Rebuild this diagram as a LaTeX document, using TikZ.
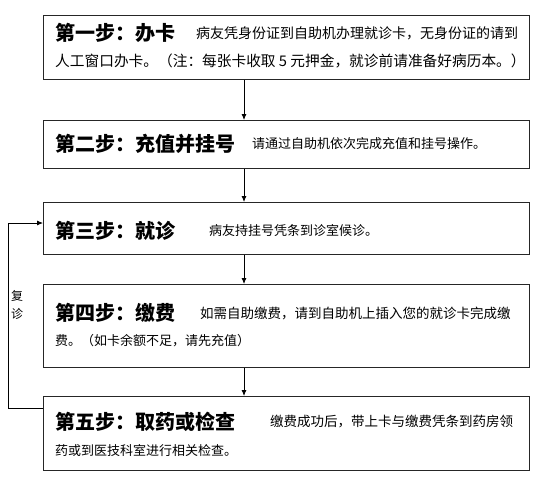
\documentclass[tikz,border=0pt]{standalone}
\usepackage{fontspec}
\setmainfont{Noto Sans CJK SC}
\usetikzlibrary{arrows.meta}
\tikzset{
  box/.style={draw=black!85, line width=0.8pt, anchor=north west, minimum width=486pt, inner sep=0pt},
  ttl/.style={anchor=west, inner sep=0pt, font=\fontsize{20}{24}\selectfont\bfseries},
  txt/.style={anchor=west, inner sep=0pt, font=\fontsize{13}{16}\selectfont},
  arr/.style={line width=0.8pt, -{Latex[length=6pt,width=5pt]}}
}
\begin{document}
\begin{tikzpicture}[x=1pt,y=-1pt]
\useasboundingbox (0,0) rectangle (549,482);
\node[box, minimum height=64pt] (b1) at (43,15) {};
\node[box, minimum height=48pt] (b2) at (43,120) {};
\node[box, minimum height=52pt] (b3) at (43,202) {};
\node[box, minimum height=83pt] (b4) at (43,284) {};
\node[box, minimum height=74pt] (b5) at (43,396) {};

\node[ttl] (t1) at (55,33) {第一步：办卡};
\node[txt, font=\fontsize{14}{16}\selectfont] (d1a) at (196,33) {病友凭身份证到自助机办理就诊卡，无身份证的请到};
\node[txt, font=\fontsize{14.7}{16}\selectfont] (d1b) at (55,61) {人工窗口办卡。（注：每张卡收取 5 元押金，就诊前请准备好病历本。）};

\node[ttl] (t2) at (55,144) {第二步：充值并挂号};
\node[txt] (d2) at (252,144) {请通过自助机依次完成充值和挂号操作。};

\node[ttl] (t3) at (55,231) {第三步：就诊};
\node[txt] (d3) at (209,231) {病友持挂号凭条到诊室候诊。};

\node[ttl] (t4) at (55,313) {第四步：缴费};
\node[txt, font=\fontsize{13.5}{16}\selectfont] (d4a) at (200,313) {如需自助缴费，请到自助机上插入您的就诊卡完成缴};
\node[txt] (d4b) at (55,341) {费。（如卡余额不足，请先充值）};

\node[ttl] (t5) at (55,422) {第五步：取药或检查};
\node[txt, font=\fontsize{13.5}{16}\selectfont] (d5a) at (270,422) {缴费成功后，带上卡与缴费凭条到药房领};
\node[txt] (d5b) at (55,451) {药或到医技科室进行相关检查。};

\node[inner sep=0pt, font=\fontsize{12}{18}\selectfont, align=center] (fz) at (17,305) {复\\诊};

\coordinate (ax) at (244,0);
\coordinate (fb) at (8,0);
\draw[arr] (b1.south -| ax) -- (b2.north -| ax);
\draw[arr] (b2.south -| ax) -- (b3.north -| ax);
\draw[arr] (b3.south -| ax) -- (b4.north -| ax);
\draw[arr] (b4.south -| ax) -- (b5.north -| ax);
\coordinate (p5) at ([yshift=-12pt]b5.north west);
\coordinate (p3) at ([yshift=-21pt]b3.north west);
\draw[arr] (p5) -- (p5 -| fb) -- (p3 -| fb) -- (p3);
\end{tikzpicture}
\end{document}
